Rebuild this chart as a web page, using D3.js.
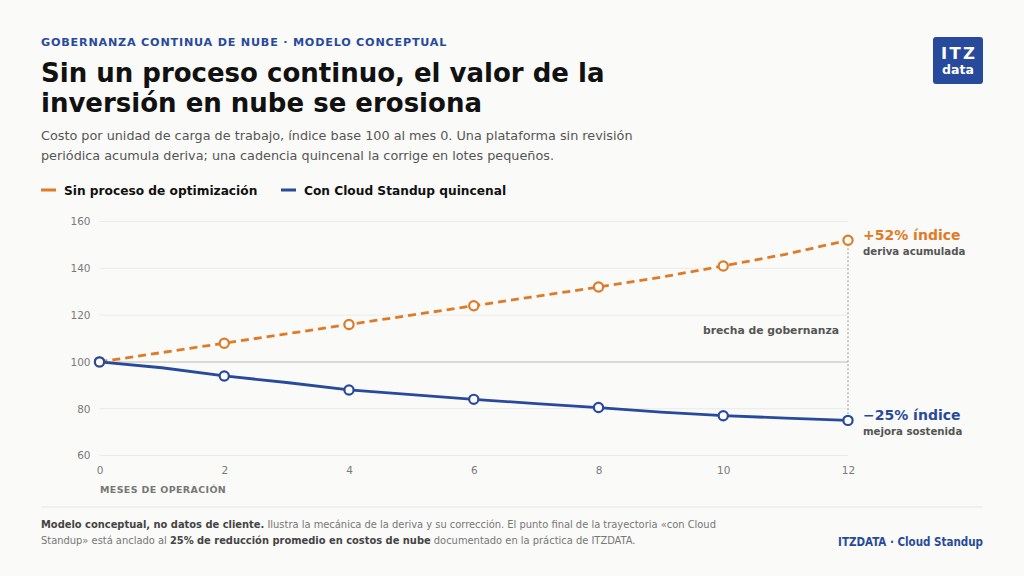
<!DOCTYPE html>
<html>
<head>
<meta charset="utf-8">
<script src="https://cdn.jsdelivr.net/npm/d3@7"></script>
<style>
  html, body { margin: 0; padding: 0; background: #fafaf8; }
  svg { display: block; font-family: "DejaVu Sans", sans-serif; }
</style>
</head>
<body>
<svg id="chart" width="1024" height="576"></svg>
<script>
// data
const months = [0, 1, 2, 3, 4, 5, 6, 7, 8, 9, 10, 11, 12];
const sinProceso = [100, 104, 108, 112, 116, 120, 124, 128, 132, 136.2, 141, 146, 152];
const conStandup = [100, 97.5, 94, 91.2, 88, 86, 84, 82.2, 80.5, 78.5, 77, 76, 75];
const yTicks = [60, 80, 100, 120, 140, 160];
const xTicks = [0, 2, 4, 6, 8, 10, 12];

const orange = "#e07a26";
const blue = "#284a9c";

const svg = d3.select("#chart");

// scales
const x = d3.scaleLinear().domain([0, 12]).range([99.5, 848]);
const y = d3.scaleLinear().domain([60, 160]).range([455.5, 221.5]);

// header
svg.append("text")
  .attr("x", 41).attr("y", 46)
  .attr("fill", blue)
  .attr("font-size", 11.2).attr("font-weight", "bold")
  .attr("letter-spacing", 0.78)
  .text("GOBERNANZA CONTINUA DE NUBE · MODELO CONCEPTUAL");

const title = svg.append("text")
  .attr("x", 41).attr("fill", "#111")
  .attr("font-size", 26).attr("font-weight", "bold");
title.append("tspan").attr("x", 41).attr("y", 82).text("Sin un proceso continuo, el valor de la");
title.append("tspan").attr("x", 41).attr("y", 112).text("inversión en nube se erosiona");

const sub = svg.append("text")
  .attr("fill", "#555").attr("font-size", 12.8);
sub.append("tspan").attr("x", 41).attr("y", 140)
  .text("Costo por unidad de carga de trabajo, índice base 100 al mes 0. Una plataforma sin revisión");
sub.append("tspan").attr("x", 41).attr("y", 160)
  .text("periódica acumula deriva; una cadencia quincenal la corrige en lotes pequeños.");

// legend
const legend = [
  {label: "Sin proceso de optimización", color: orange, x: 41},
  {label: "Con Cloud Standup quincenal", color: blue, x: 281}
];
legend.forEach(d => {
  svg.append("line")
    .attr("x1", d.x).attr("x2", d.x + 15)
    .attr("y1", 190).attr("y2", 190)
    .attr("stroke", d.color).attr("stroke-width", 3);
  svg.append("text")
    .attr("x", d.x + 23).attr("y", 194.5)
    .attr("font-size", 12.2).attr("font-weight", "bold").attr("fill", "#111")
    .text(d.label);
});

// logo
svg.append("rect")
  .attr("x", 933).attr("y", 37).attr("width", 50).attr("height", 47)
  .attr("rx", 3).attr("fill", blue);
svg.append("text")
  .attr("x", 959.2).attr("y", 59).attr("text-anchor", "middle")
  .attr("fill", "#fff").attr("font-size", 16.5).attr("font-weight", "bold")
  .attr("letter-spacing", 2.4)
  .text("ITZ");
svg.append("text")
  .attr("x", 958).attr("y", 73.5).attr("text-anchor", "middle")
  .attr("fill", "#fff").attr("font-size", 12.5).attr("font-weight", "bold")
  .text("data");

// gridlines
svg.append("g").selectAll("line")
  .data(yTicks)
  .join("line")
  .attr("x1", x(0)).attr("x2", x(12))
  .attr("y1", d => y(d)).attr("y2", d => y(d))
  .attr("stroke", d => d === 100 ? "#cfcfcc" : "#ebebe8")
  .attr("stroke-width", d => d === 100 ? 1.5 : 1);

// y axis
const yAxis = svg.append("g")
  .attr("transform", "translate(" + (x(0) - 9) + ",0)")
  .call(d3.axisLeft(y).tickValues(yTicks).tickSize(0).tickPadding(0));
yAxis.select(".domain").remove();
yAxis.selectAll("text")
  .attr("fill", "#7a7a7a").attr("font-size", 10.5)
  .attr("font-family", "DejaVu Sans, sans-serif");

// x axis
const xAxis = svg.append("g")
  .attr("transform", "translate(0," + (y(60) + 11) + ")")
  .call(d3.axisBottom(x).tickValues(xTicks).tickSize(0).tickPadding(0));
xAxis.select(".domain").remove();
xAxis.selectAll("text")
  .attr("fill", "#7a7a7a").attr("font-size", 10.5)
  .attr("font-family", "DejaVu Sans, sans-serif");

svg.append("text")
  .attr("x", 100).attr("y", 493)
  .attr("fill", "#777").attr("font-size", 9.5).attr("font-weight", "bold")
  .attr("letter-spacing", 0.35)
  .text("MESES DE OPERACIÓN");

// gap marker
svg.append("line")
  .attr("x1", x(12)).attr("x2", x(12))
  .attr("y1", y(sinProceso[12])).attr("y2", y(conStandup[12]))
  .attr("stroke", "#999").attr("stroke-width", 1)
  .attr("stroke-dasharray", "2,2");
svg.append("text")
  .attr("x", x(12) - 9)
  .attr("y", (y(sinProceso[12]) + y(conStandup[12])) / 2 + 4)
  .attr("text-anchor", "end")
  .attr("fill", "#555").attr("font-size", 10.8).attr("font-weight", "bold")
  .text("brecha de gobernanza");

// lines
const series = [
  {values: sinProceso, color: orange, dash: "8,5"},
  {values: conStandup, color: blue, dash: null}
];
const line = d3.line()
  .x((d, i) => x(months[i]))
  .y(d => y(d));

series.forEach(s => {
  svg.append("path")
    .datum(s.values)
    .attr("fill", "none")
    .attr("stroke", s.color)
    .attr("stroke-width", 2.8)
    .attr("stroke-dasharray", s.dash)
    .attr("d", line);
});

series.forEach(s => {
  svg.append("g").selectAll("circle")
    .data(s.values.map((v, i) => ({m: months[i], v: v})).filter(d => d.m % 2 === 0))
    .join("circle")
    .attr("cx", d => x(d.m))
    .attr("cy", d => y(d.v))
    .attr("r", 4.6)
    .attr("fill", "#fff")
    .attr("stroke", s.color)
    .attr("stroke-width", 2.2);
});

// end labels
const ends = [
  {big: "+52% índice", small: "deriva acumulada", color: orange, v: sinProceso[12]},
  {big: "\u221225% índice", small: "mejora sostenida", color: blue, v: conStandup[12]}
];
ends.forEach(d => {
  svg.append("text")
    .attr("x", 863).attr("y", y(d.v) - 0.5)
    .attr("fill", d.color).attr("font-size", 14).attr("font-weight", "bold")
    .text(d.big);
  svg.append("text")
    .attr("x", 863).attr("y", y(d.v) + 15)
    .attr("fill", "#555").attr("font-size", 10.2).attr("font-weight", "bold")
    .text(d.small);
});

// footer
svg.append("line")
  .attr("x1", 41).attr("x2", 983)
  .attr("y1", 507).attr("y2", 507)
  .attr("stroke", "#e6e6e3").attr("stroke-width", 1);

const foot = svg.append("text")
  .attr("font-family", "DejaVu Sans Condensed, DejaVu Sans, sans-serif")
  .attr("font-size", 11).attr("fill", "#777");
const l1 = foot.append("tspan").attr("x", 41).attr("y", 528);
l1.append("tspan").attr("font-weight", "bold").attr("fill", "#444").text("Modelo conceptual, no datos de cliente.");
l1.append("tspan").text(" Ilustra la mecánica de la deriva y su corrección. El punto final de la trayectoria «con Cloud");
const l2 = foot.append("tspan").attr("x", 41).attr("y", 544);
l2.append("tspan").text("Standup» está anclado al ");
foot.append("tspan").attr("font-weight", "bold").attr("fill", "#444").text("25% de reducción promedio en costos de nube");
foot.append("tspan").text(" documentado en la práctica de ITZDATA.");

svg.append("text")
  .attr("x", 983).attr("y", 546).attr("text-anchor", "end")
  .attr("font-family", "DejaVu Sans Condensed, DejaVu Sans, sans-serif")
  .attr("fill", blue).attr("font-size", 11.5).attr("font-weight", "bold")
  .text("ITZDATA · Cloud Standup");
</script>
</body>
</html>
